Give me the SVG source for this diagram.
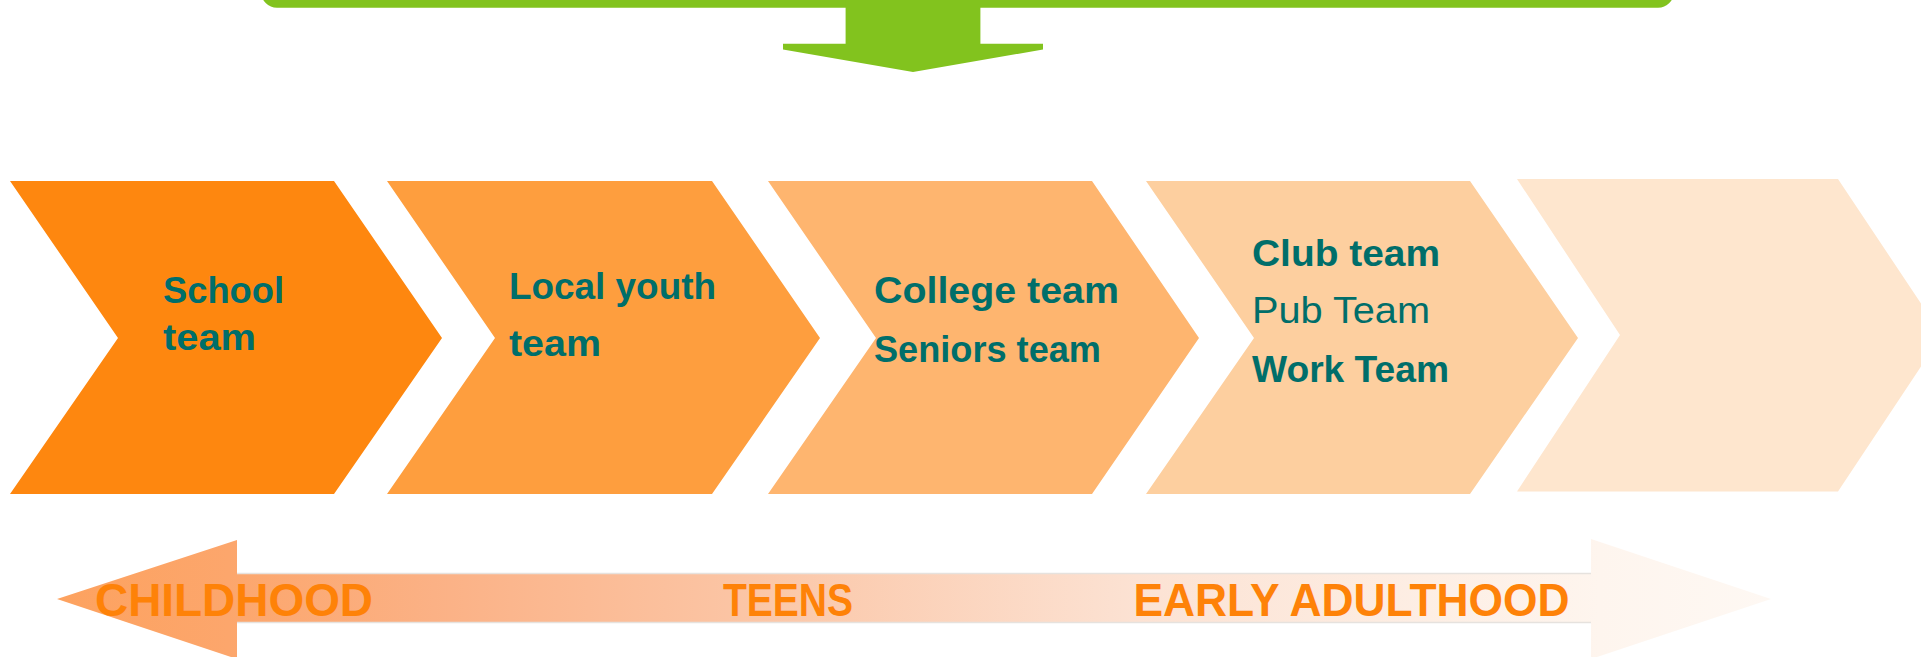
<svg xmlns="http://www.w3.org/2000/svg" width="1921" height="657" viewBox="0 0 1921 657">
  <defs>
    <linearGradient id="tl" gradientUnits="userSpaceOnUse" x1="57" y1="0" x2="1771" y2="0">
      <stop offset="0" stop-color="#FDA25F"/>
      <stop offset="0.1" stop-color="#FCA66C"/>
      <stop offset="0.22" stop-color="#FBB185"/>
      <stop offset="0.4" stop-color="#FBC5A5"/>
      <stop offset="0.63" stop-color="#FCE2D3"/>
      <stop offset="0.8" stop-color="#FDEEE4"/>
      <stop offset="0.9" stop-color="#FEF5EE"/>
      <stop offset="1" stop-color="#FEF8F3"/>
    </linearGradient>
  </defs>
  <style>
    .lbl { font-family: "Liberation Sans", Arial, sans-serif; font-size: 37px; font-weight: bold; fill: #006E6A; }
    .lbl.light { font-weight: normal; }
    .age { font-family: "Liberation Sans", Arial, sans-serif; font-size: 46px; font-weight: bold; fill: #FE8208; }
    .green { fill: #82C31E; }
  </style>

  <g id="top-box">
    <rect class="green" x="261" y="-40" width="1413" height="47.7" rx="16" ry="16"/>
  </g>

  <g id="connectors">
    <path class="green" d="M845.6,0 H980.4 V43.7 H1043 V49.5 L913,72 L783,49.5 V43.7 H845.6 Z"/>
  </g>

  <g id="stage-school">
    <polygon points="10,181 334,181 442,338 334,494 10,494 118,338" fill="#FE870F"/>
    <text class="lbl" x="163" y="302.7" textLength="121" lengthAdjust="spacingAndGlyphs">School</text>
    <text class="lbl" x="163" y="350" textLength="93" lengthAdjust="spacingAndGlyphs">team</text>
  </g>

  <g id="stage-local-youth">
    <polygon points="387,181 712,181 820,338 712,494 387,494 495,338" fill="#FE9E3E"/>
    <text class="lbl" x="509" y="299" textLength="207" lengthAdjust="spacingAndGlyphs">Local youth</text>
    <text class="lbl" x="509" y="355.7" textLength="92" lengthAdjust="spacingAndGlyphs">team</text>
  </g>

  <g id="stage-college">
    <polygon points="768,181 1092,181 1199,338 1092,494 768,494 876,338" fill="#FEB56F"/>
    <text class="lbl" x="874" y="303.3" textLength="245" lengthAdjust="spacingAndGlyphs">College team</text>
    <text class="lbl" x="874" y="361.7" textLength="227" lengthAdjust="spacingAndGlyphs">Seniors team</text>
  </g>

  <g id="stage-club">
    <polygon points="1146,181 1470,181 1578,338 1470,494 1146,494 1254,338" fill="#FDCF9F"/>
    <text class="lbl" x="1252" y="266" textLength="188" lengthAdjust="spacingAndGlyphs">Club team</text>
    <text class="lbl light" x="1252" y="322.7" textLength="178" lengthAdjust="spacingAndGlyphs">Pub Team</text>
    <text class="lbl" x="1252" y="381.7" textLength="197" lengthAdjust="spacingAndGlyphs">Work Team</text>
  </g>

  <g id="stage-empty">
    <polygon points="1517,179 1838,179 1942,335 1838,491.5 1517,491.5 1620,335" fill="#FEE6CE"/>
  </g>

  <g id="timeline">
    <path d="M57,599 L237,540 V573.5 H1591 V539 L1771,599 L1591,659 V622.5 H237 V659 Z" fill="url(#tl)"/>
    <line x1="237" y1="573.5" x2="1591" y2="573.5" stroke="#E6E2DE" stroke-width="1.5"/>
    <line x1="237" y1="622.5" x2="1591" y2="622.5" stroke="#E6E2DE" stroke-width="1.5"/>
    <text class="age" x="95" y="615.7" textLength="278" lengthAdjust="spacingAndGlyphs">CHILDHOOD</text>
    <text class="age" x="723" y="615.7" textLength="130" lengthAdjust="spacingAndGlyphs">TEENS</text>
    <text class="age" x="1133.5" y="615.5" textLength="436" lengthAdjust="spacingAndGlyphs">EARLY ADULTHOOD</text>
  </g>
</svg>
